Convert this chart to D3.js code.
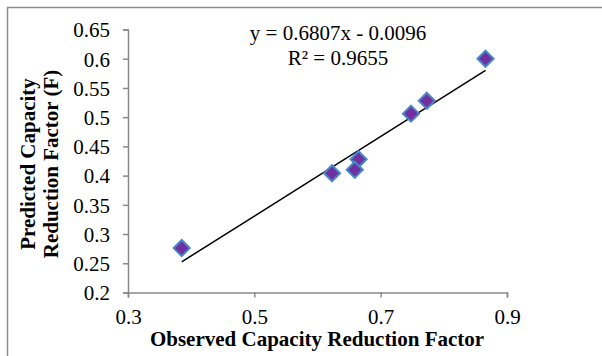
<!DOCTYPE html>
<html>
<head>
<meta charset="utf-8">
<script src="https://cdn.jsdelivr.net/npm/d3@7"></script>
<style>
  body { margin: 0; background: #fff; }
  text { font-family: "Liberation Serif", "Times New Roman", serif; fill: #000; }
</style>
</head>
<body>
<script>
var observed  = [0.385, 0.866, 0.773, 0.748, 0.665, 0.659, 0.623];
var predicted = [0.276, 0.600, 0.528, 0.506, 0.428, 0.410, 0.404];
var xTicks = [0.3, 0.5, 0.7, 0.9];
var yTicks = [0.2, 0.25, 0.3, 0.35, 0.4, 0.45, 0.5, 0.55, 0.6, 0.65];
var slope = 0.6807, intercept = -0.0096;
var eqLines = ['y = 0.6807x - 0.0096', 'R² = 0.9655'];

var W = 602, H = 356;

var svg = d3.select('body').append('svg')
    .attr('width', W)
    .attr('height', H);

// chart frame
svg.append('rect')
    .attr('x', 7.5).attr('y', 7.5)
    .attr('width', W + 20).attr('height', H + 20)
    .attr('fill', '#fff')
    .attr('stroke', '#8c8c8c')
    .attr('stroke-width', 1.5);

var x = d3.scaleLinear().domain([0.3, 0.9]).range([128, 507]);
var y = d3.scaleLinear().domain([0.2, 0.65]).range([292.5, 29.5]);

var xAxis = svg.append('g')
    .attr('transform', 'translate(0,' + y(0.2) + ')')
    .call(d3.axisBottom(x).tickValues(xTicks).tickSize(5).tickPadding(12)
        .tickFormat(d3.format('')));

var yAxis = svg.append('g')
    .attr('transform', 'translate(' + x(0.3) + ',0)')
    .call(d3.axisLeft(y).tickValues(yTicks).tickSize(5).tickPadding(13)
        .tickFormat(d3.format('')));

[xAxis, yAxis].forEach(function(a) {
    a.selectAll('path, line').attr('stroke', '#898989').attr('stroke-width', 1.5);
    a.selectAll('text')
        .style('font-family', '"Liberation Serif", "Times New Roman", serif')
        .style('font-size', '21px')
        .attr('fill', '#000');
});
yAxis.selectAll('text').attr('dy', '0.35em');

// trendline
var xr = d3.extent(observed);
svg.append('line')
    .attr('x1', x(xr[0])).attr('y1', y(slope * xr[0] + intercept))
    .attr('x2', x(xr[1])).attr('y2', y(slope * xr[1] + intercept))
    .attr('stroke', '#000')
    .attr('stroke-width', 1.5);

// markers
var diamond = d3.symbol().type(d3.symbolDiamond2).size(165);
svg.selectAll('.pt')
    .data(observed)
  .enter().append('path')
    .attr('class', 'pt')
    .attr('d', diamond)
    .attr('transform', function(d, i) { return 'translate(' + [x(d), y(predicted[i])] + ')'; })
    .attr('fill', '#7030a0')
    .attr('stroke', '#4a86c8')
    .attr('stroke-width', 2);

// equation
svg.selectAll('.eq')
    .data(eqLines)
  .enter().append('text')
    .attr('class', 'eq')
    .attr('x', 338)
    .attr('y', function(d, i) { return 40 + i * 25; })
    .attr('text-anchor', 'middle')
    .style('font-size', '21px')
    .text(function(d) { return d; });

// axis titles
svg.append('text')
    .attr('x', 317)
    .attr('y', 346)
    .attr('text-anchor', 'middle')
    .style('font-size', '21px')
    .style('font-weight', 'bold')
    .text('Observed Capacity Reduction Factor');

var yt = svg.append('text')
    .attr('transform', 'translate(0,164) rotate(-90)')
    .attr('text-anchor', 'middle')
    .style('font-size', '21px')
    .style('font-weight', 'bold');
yt.append('tspan').attr('x', 0).attr('y', 35).text('Predicted Capacity');
yt.append('tspan').attr('x', 0).attr('y', 58).text('Reduction Factor (F)');
</script>
</body>
</html>
